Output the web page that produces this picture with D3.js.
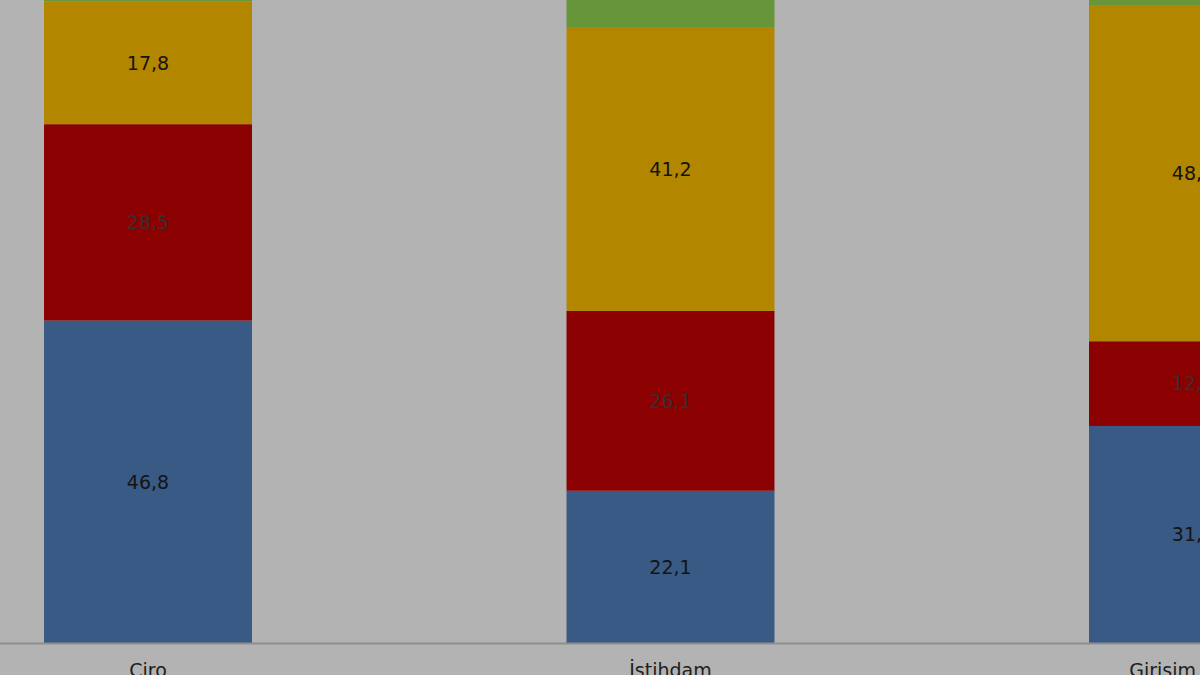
<!DOCTYPE html>
<html>
<head>
<meta charset="utf-8">
<script src="https://cdn.jsdelivr.net/npm/d3@7"></script>
<style>
  html, body { margin: 0; padding: 0; background: #b3b3b3; overflow: hidden; }
</style>
</head>
<body>
<svg id="chart"></svg>
<script>
// categories and stacked shares (%)
var categories = ["Ciro", "İstihdam", "Girisim"];
var seriesNames = ["s1", "s2", "s3", "s4"];
var s1 = [46.8, 22.1, 31.5];
var s2 = [28.5, 26.1, 12.3];
var s3 = [17.8, 41.2, 48.8];
var s4 = [6.9, 10.6, 7.4];

var colors = ["#385a85", "#8b0000", "#b38600", "#67963a"];
var labelColors = ["#141414", "#3a2e2e", "#141414", "#141414"];

var dimensions = {
  width: 1200,
  height: 675,
  baseline: 643
}

var svg = d3.select("#chart")
  .attr("width", dimensions.width)
  .attr("height", dimensions.height)

svg.append("rect")
  .attr("width", dimensions.width)
  .attr("height", dimensions.height)
  .attr("fill", "#b3b3b3")

// build rows for the stack
var rows = categories.map(function(c, i) {
  return { cat: c, s1: s1[i], s2: s2[i], s3: s3[i], s4: s4[i] }
})
var stacked = d3.stack().keys(seriesNames)(rows)

var xScale = d3.scaleBand()
  .domain(categories)
  .range([-270.5, 1611.5])
  .paddingInner(0.602)
  .paddingOuter(0.602)

var yScale = d3.scaleLinear()
  .domain([0, 100])
  .range([dimensions.baseline, dimensions.baseline - 689])

var fmt = function(v) { return d3.format(".1f")(v).replace(".", ",") }

stacked.forEach(function(layer, k) {
  var g = svg.append("g")

  g.selectAll("rect")
    .data(layer)
    .join("rect")
    .attr("x", d => xScale(d.data.cat))
    .attr("y", d => yScale(d[1]))
    .attr("width", xScale.bandwidth())
    .attr("height", d => yScale(d[0]) - yScale(d[1]))
    .attr("fill", colors[k])

  g.selectAll("text")
    .data(layer)
    .join("text")
    .attr("x", d => xScale(d.data.cat) + xScale.bandwidth() / 2)
    .attr("y", d => yScale((d[0] + d[1]) / 2))
    .attr("dy", "0.36em")
    .attr("text-anchor", "middle")
    .style("font-family", "'DejaVu Sans', Verdana, sans-serif")
    .style("font-size", "19px")
    .attr("fill", labelColors[k])
    .text(d => fmt(d[1] - d[0]))
})

// category axis
var xAxis = d3.axisBottom(xScale).tickSize(0).tickPadding(21)
var axisG = svg.append("g")
  .attr("transform", "translate(0," + dimensions.baseline + ")")
  .call(xAxis)

axisG.select(".domain").remove()
axisG.append("line")
  .attr("x1", 0)
  .attr("x2", dimensions.width)
  .attr("y1", 0.5)
  .attr("y2", 0.5)
  .attr("stroke", "#8e8e8e")
  .attr("stroke-width", 2)

axisG.selectAll("text")
  .style("font-family", "'DejaVu Sans', Verdana, sans-serif")
  .style("font-size", "19px")
  .attr("fill", "#1e1e1e")

// keep labels inside the visible area, like the spreadsheet does
axisG.selectAll(".tick").each(function() {
  var tick = d3.select(this)
  var t = tick.select("text")
  var box = t.node().getBBox()
  var cx = xScale(tick.datum()) + xScale.bandwidth() / 2
  if (cx + box.width / 2 > dimensions.width - 4) {
    t.attr("text-anchor", "end").attr("x", dimensions.width - 4 - cx)
  }
})
</script>
</body>
</html>
